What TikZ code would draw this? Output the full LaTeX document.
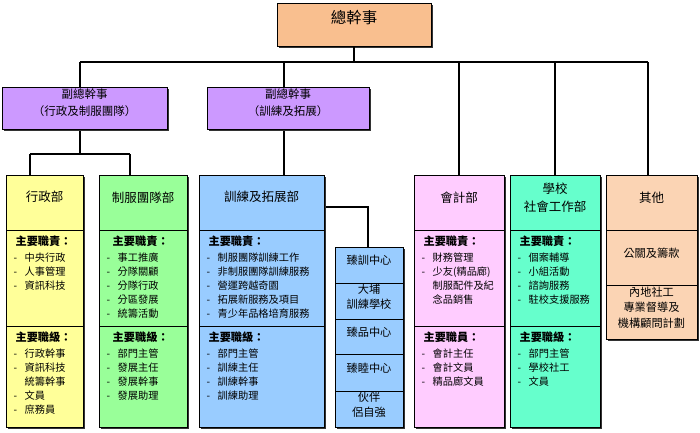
\documentclass[tikz,border=0pt]{standalone}
\usepackage{fontspec}
\newfontfamily\cjk{Noto Sans CJK TC}
\usetikzlibrary{fit,shadows,calc}
\definecolor{topc}{HTML}{F9BF8F}
\definecolor{vpc}{HTML}{CC99FF}
\definecolor{yel}{HTML}{FFFF99}
\definecolor{grn}{HTML}{99FF99}
\definecolor{blu}{HTML}{99CCFF}
\definecolor{pnk}{HTML}{FFCCFF}
\definecolor{aqu}{HTML}{66FFCC}
\definecolor{pch}{HTML}{FBD4B4}
\newcommand\hd[1]{{\bfseries\fontsize{11.2}{14}\selectfont #1}\\[2pt]}
\newcommand\itm[1]{\makebox[11pt][l]{-}#1}
\newcommand\itmc[1]{\makebox[11pt][l]{}#1}
\begin{document}
\begin{tikzpicture}[x=1pt,y=-1pt,
  box/.style={draw=black, line width=1pt, inner sep=0pt, fill=#1,
    drop shadow={shadow xshift=1.6pt, shadow yshift=-1.6pt, fill=black!80, opacity=1}},
  conn/.style={line width=1.8pt},
  ttl/.style={font=\cjk\fontsize{12.5}{18}\selectfont, align=center},
  ctr/.style={font=\cjk\fontsize{11.2}{15}\selectfont, align=center},
  body/.style={anchor=north west, inner sep=0pt, align=left, font=\cjk\fontsize{10.2}{14}\selectfont}]
\useasboundingbox (0,0) rectangle (700,432);

% junction coordinates
\coordinate (busM) at (354,62);
\coordinate (busL) at (80,62);
\coordinate (busR) at (648,62);
\coordinate (bus2) at (284,62);
\coordinate (bus4) at (459,62);
\coordinate (bus5) at (555,62);
\coordinate (brM) at (80,154);
\coordinate (brL) at (30,154);
\coordinate (brR) at (130,154);
\coordinate (cbend) at (368,207);

% connectors
\draw[conn] (busL) -- (busR);
\draw[conn] (busL) -- (brM);
\draw[conn] (brL) -- (brR);
\draw[conn] (brL) -- (30,175);
\draw[conn] (brR) -- (130,175);
\draw[conn] (bus2) -- (284,175);
\draw[conn] (bus4) -- (459,175);
\draw[conn] (bus5) -- (555,175);
\draw[conn] (busR) -- (648,175);
\draw[conn] (324,207) -- (cbend) -- (368,247);

% top
\node[box=topc, fit={(277,3)(431,46)}, font=\cjk\fontsize{15.5}{18}\selectfont] (top) {總幹事};
\draw[conn] (top.south) -- (busM);

% vice
\node[box=vpc, fit={(2,87)(167,129)}, font=\cjk\fontsize{11.5}{17}\selectfont, align=center] (vp1) {副總幹事\\（行政及制服團隊）};
\node[box=vpc, fit={(207,87)(369,129)}, font=\cjk\fontsize{11.5}{17}\selectfont, align=center] (vp2) {副總幹事\\（訓練及拓展）};

% dept 1
\node[box=yel, fit={(6,175)(83,230)}, ttl] (d1h) {行政部};
\node[box=yel, fit={(6,230)(83,326)}] (d1a) {};
\node[box=yel, fit={(6,326)(83,427)}] (d1b) {};
\node[body] (d1at) at ($(d1a.north west)+(8,6)$) {\hd{\,主要職責：}\itm{中央行政}\\\itm{人事管理}\\\itm{資訊科技}};
\node[body] (d1bt) at ($(d1b.north west)+(8,6)$) {\hd{\,主要職級：}\itm{行政幹事}\\\itm{資訊科技}\\\itmc{統籌幹事}\\\itm{文員}\\\itm{庶務員}};

% dept 2
\node[box=grn, fit={(99,175)(187,230)}, ttl] (d2h) {制服團隊部};
\node[box=grn, fit={(99,230)(187,326)}] (d2a) {};
\node[box=grn, fit={(99,326)(187,427)}] (d2b) {};
\node[body] (d2at) at ($(d2a.north west)+(8,6)$) {\hd{\hspace*{6pt}主要職責：}\itm{事工推廣}\\\itm{分隊關顧}\\\itm{分隊行政}\\\itm{分區發展}\\\itm{統籌活動}};
\node[body] (d2bt) at ($(d2b.north west)+(8,6)$) {\hd{\hspace*{6pt}主要職級：}\itm{部門主管}\\\itm{發展主任}\\\itm{發展幹事}\\\itm{發展助理}};

% dept 3
\node[box=blu, fit={(199,175)(324,230)}, ttl] (d3h) {訓練及拓展部};
\node[box=blu, fit={(199,230)(324,326)}] (d3a) {};
\node[box=blu, fit={(199,326)(324,427)}] (d3b) {};
\node[body] (d3at) at ($(d3a.north west)+(8,6)$) {\hd{\,主要職責：}\itm{制服團隊訓練工作}\\\itm{非制服團隊訓練服務}\\\itm{營運跨越奇園}\\\itm{拓展新服務及項目}\\\itm{青少年品格培育服務}};
\node[body] (d3bt) at ($(d3b.north west)+(8,6)$) {\hd{\,主要職級：}\itm{部門主管}\\\itm{訓練主任}\\\itm{訓練幹事}\\\itm{訓練助理}};

% centres
\node[box=blu, fit={(335,247)(403,283)}, ctr] (c1) {臻訓中心};
\node[box=blu, fit={(335,283)(403,319)}, ctr] (c2) {大埔\\訓練學校};
\node[box=blu, fit={(335,319)(403,354)}, ctr] (c3) {臻品中心};
\node[box=blu, fit={(335,354)(403,391)}] (c4) {};
\node[ctr] (c4t) at (369,368) {臻睦中心};
\node[box=blu, fit={(335,391)(403,427)}, ctr] (c5) {伙伴\\侶自強};

% dept 4
\node[box=pnk, fit={(414,175)(504,230)}, ttl] (d4h) {會計部};
\node[box=pnk, fit={(414,230)(504,326)}] (d4a) {};
\node[box=pnk, fit={(414,326)(504,427)}] (d4b) {};
\node[body] (d4at) at ($(d4a.north west)+(8,6)$) {\hd{\,主要職責：}\itm{財務管理}\\\itm{少友(精品廊)}\\\itmc{制服配件及紀}\\\itmc{念品銷售}};
\node[body] (d4bt) at ($(d4b.north west)+(8,6)$) {\hd{\,主要職員：}\itm{會計主任}\\\itm{會計文員}\\\itm{精品廊文員}};

% dept 5
\node[box=aqu, fit={(510,175)(600,230)}, ttl] (d5h) {學校\\社會工作部};
\node[box=aqu, fit={(510,230)(600,326)}] (d5a) {};
\node[box=aqu, fit={(510,326)(600,427)}] (d5b) {};
\node[body] (d5at) at ($(d5a.north west)+(8,6)$) {\hd{\,主要職責：}\itm{個案輔導}\\\itm{小組活動}\\\itm{諮詢服務}\\\itm{駐校支援服務}};
\node[body] (d5bt) at ($(d5b.north west)+(8,6)$) {\hd{\,主要職級：}\itm{部門主管}\\\itm{學校社工}\\\itm{文員}};

% dept 6
\node[box=pch, fit={(606,175)(697,230)}, ttl] (d6h) {其他};
\node[box=pch, fit={(606,230)(697,285)}, ctr] (d6a) {公關及籌款};
\node[box=pch, fit={(606,285)(697,339)}, ctr, font=\cjk\fontsize{11.2}{15.5}\selectfont] (d6b) {內地社工\\專業督導及\\機構顧問計劃};
\end{tikzpicture}
\end{document}
